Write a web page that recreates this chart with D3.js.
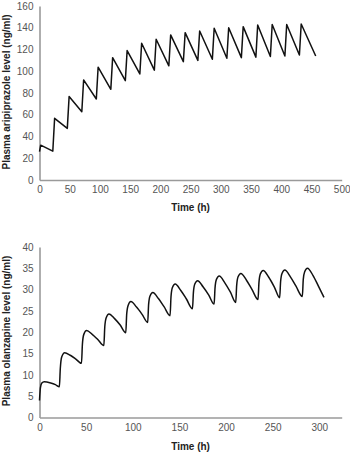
<!DOCTYPE html>
<html><head><meta charset="utf-8">
<script src="https://cdn.jsdelivr.net/npm/d3@7"></script>
<style>
html,body{margin:0;padding:0;background:#fff;}
svg{display:block;font-family:"Liberation Sans",Arial,sans-serif;}
</style></head>
<body>
<svg id="chart" width="350" height="452"></svg>
<script>
// Aripiprazole (top chart)
const aripTime  = [0, 2, 22, 25, 46, 49, 70, 73, 94, 97, 118, 121, 142, 145, 166, 169, 190, 193, 214, 217, 238, 241, 262, 265, 286, 289, 310, 313, 334, 337, 358, 361, 382, 385, 406, 409, 430, 433, 457];
const aripLevel = [26, 32, 26.5, 56.7, 47.5, 76.7, 62.8, 92, 74.5, 103.7, 83.4, 112.5, 91.4, 119, 97.5, 125.7, 101, 129.4, 105, 133.4, 108.8, 135.5, 110, 137, 111, 139.5, 112, 140, 112.5, 141, 113, 142.5, 113.5, 143, 114, 143, 115, 143.5, 114];
const aripXTicks = [0, 50, 100, 150, 200, 250, 300, 350, 400, 450, 500];
const aripYTicks = [0, 20, 40, 60, 80, 100, 120, 140, 160];

// Olanzapine (bottom chart)
const olanTime = [
  0, 1, 2.5, 5, 12, 17, 21.3,
  22.3, 23.8, 27, 33, 39, 45,
  46, 47.5, 50.5, 56.5, 62.5, 69,
  70, 71.5, 74.5, 80.5, 86.5, 92.5,
  93.5, 95, 98, 104, 110, 116,
  117, 118.5, 121.5, 127.5, 133.5, 140,
  141, 142.5, 145.5, 151.5, 157.5, 164,
  165, 166.5, 169.5, 175.5, 181.5, 187.2,
  188.2, 189.7, 192.7, 198.7, 204.7, 210.4,
  211.4, 212.9, 215.9, 221.9, 227.9, 234.3,
  235.3, 236.8, 239.8, 245.8, 251.8, 257.5,
  258.5, 260, 263, 269, 275, 281.8,
  282.8, 284.3, 287.3, 293.3, 299.3, 305];
const olanLevel = [
  4, 7, 8.1, 8.4, 8.1, 7.7, 7.2,
  11.5, 14.2, 15.2, 14.6, 13.7, 12.7,
  17.2, 19.5, 20.4, 19.5, 18.3, 16.9,
  21.3, 23.4, 24.3, 23.2, 21.7, 19.9,
  24.3, 26.3, 27.2, 25.9, 24.2, 22.3,
  26.6, 28.5, 29.3, 27.9, 26.0, 23.9,
  28.4, 30.5, 31.3, 29.8, 27.8, 25.5,
  29.3, 31.3, 32.1, 30.6, 28.7, 26.6,
  30.4, 32.4, 33.2, 31.6, 29.4, 27,
  31, 33, 33.8, 32.2, 30.0, 27.7,
  31.7, 33.7, 34.5, 32.9, 30.6, 28.1,
  31.9, 33.8, 34.6, 33.0, 30.8, 28.4,
  32.4, 34.2, 35, 33.3, 30.7, 28.2];
const olanXTicks = [0, 50, 100, 150, 200, 250, 300];
const olanYTicks = [0, 5, 10, 15, 20, 25, 30, 35, 40];

const svg = d3.select("#chart");

function drawPanel(cfg) {
  const x = d3.scaleLinear().domain(cfg.xDomain).range([cfg.left, cfg.right]);
  const y = d3.scaleLinear().domain(cfg.yDomain).range([cfg.bottom, cfg.top]);
  const g = svg.append("g");

  const xAxis = d3.axisBottom(x).tickValues(cfg.xTicks).tickSize(0).tickPadding(6).tickFormat(d3.format("d"));
  const gx = g.append("g").attr("transform", `translate(0,${cfg.bottom})`).call(xAxis);
  const yAxis = d3.axisLeft(y).tickValues(cfg.yTicks).tickSize(0).tickPadding(6).tickFormat(d3.format("d"));
  const gy = g.append("g").attr("transform", `translate(${cfg.left},0)`).call(yAxis);

  [gx, gy].forEach(a => {
    a.select(".domain").attr("stroke", "#9a9a9a").attr("stroke-width", 1.6);
    a.selectAll("text").attr("fill", "#555").style("font-size", "10px")
      .style("font-family", "'Liberation Sans', Arial, sans-serif");
  });

  const line = d3.line().x((d, i) => x(cfg.t[i])).y((d, i) => y(cfg.v[i])).curve(cfg.curve);
  g.append("path").datum(cfg.v).attr("d", line)
    .attr("fill", "none").attr("stroke", "#111").attr("stroke-width", 1.5)
    .attr("stroke-linejoin", "round");

  g.append("text").attr("x", (cfg.left + cfg.right) / 2 ).attr("y", cfg.xTitleY)
    .attr("text-anchor", "middle").attr("font-weight", "bold").attr("font-size", "10px")
    .attr("fill", "#222").text("Time (h)");
  g.append("text")
    .attr("transform", `translate(${cfg.yTitleX},${cfg.yTitleCY}) rotate(-90)`)
    .attr("text-anchor", "middle").attr("font-weight", "bold").attr("font-size", "10px")
    .attr("fill", "#222").text(cfg.yTitle);
}

drawPanel({
  t: aripTime, v: aripLevel, xTicks: aripXTicks, yTicks: aripYTicks,
  xDomain: [0, 500], yDomain: [0, 160],
  left: 39.5, right: 341.7, top: 6, bottom: 180,
  xTitleY: 210.5, yTitleX: 10, yTitleCY: 92,
  yTitle: "Plasma aripiprazole level (ng/ml)", curve: d3.curveLinear
});

drawPanel({
  t: olanTime, v: olanLevel, xTicks: olanXTicks, yTicks: olanYTicks,
  xDomain: [0, 324], yDomain: [0, 40],
  left: 39.5, right: 341.7, top: 247, bottom: 417.5,
  xTitleY: 449.5, yTitleX: 10, yTitleCY: 331,
  yTitle: "Plasma olanzapine level (ng/ml)", curve: d3.curveMonotoneX
});
</script>
</body></html>
